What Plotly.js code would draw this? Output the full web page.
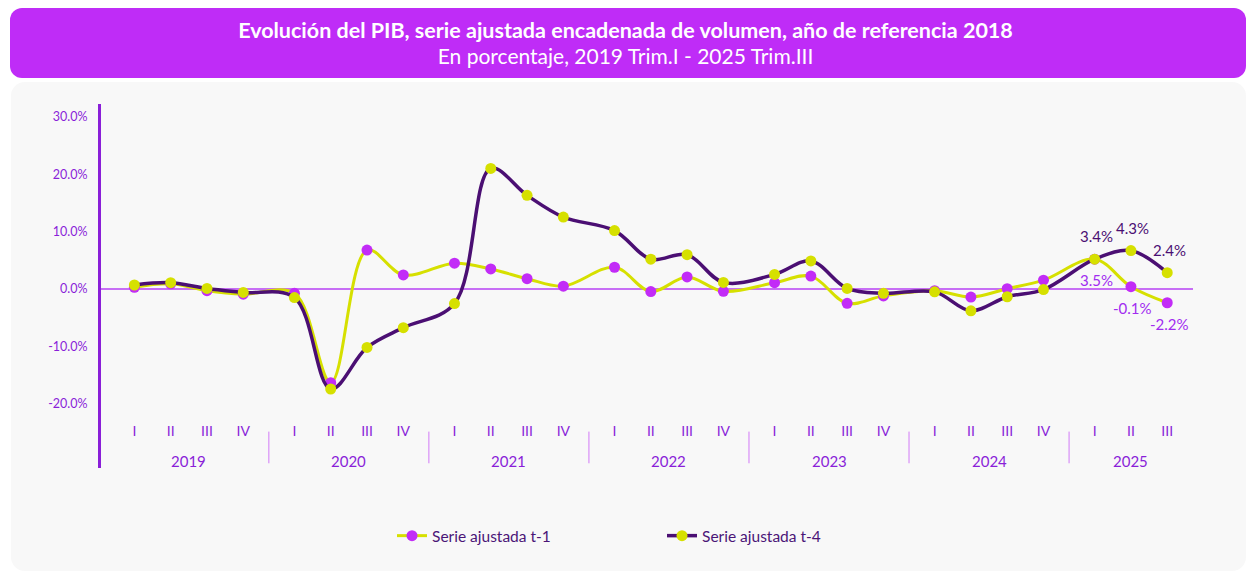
<!DOCTYPE html>
<html>
<head>
<meta charset="utf-8">
<script src="https://cdn.plot.ly/plotly-3.0.1.min.js"></script>
<style>
  html, body { margin: 0; padding: 0; background: #ffffff; }
  #wrap { position: relative; width: 1251px; height: 573px; overflow: hidden; }
  #panel { position: absolute; left: 11px; top: 82px; width: 1235px; height: 489px; background: #f8f8f8; border-radius: 14px; }
  #titlebox { position: absolute; left: 10px; top: 8px; width: 1236px; height: 70px; background: #bf2cf7; border-radius: 12px; }
  #chart { position: absolute; left: 0; top: 0; width: 1251px; height: 573px; }
</style>
</head>
<body>
<div id="wrap">
  <div id="panel"></div>
  <div id="titlebox"></div>
  <div id="chart"></div>
</div>
<script>
// ---- data ----
const yearLabels = ['2019', '2020', '2021', '2022', '2023', '2024', '2025'];
const quarterLabels = ['I', 'II', 'III', 'IV'];
const quartersPerYear = [4, 4, 4, 4, 4, 4, 3];

// Serie ajustada t-1 (variación intertrimestral, %)
const serieT1 = [0.3, 0.9, -0.3, -0.9,
                 -0.75, -16.35, 6.8, 2.45,
                 4.5, 3.5, 1.8, 0.5,
                 3.8, -0.45, 2.1, -0.4,
                 1.1, 2.25, -2.5, -1.2,
                 -0.3, -1.4, 0.05, 1.55,
                 5.2, 0.4, -2.4];
// Serie ajustada t-4 (variación interanual, %)
const serieT4 = [0.7, 1.1, 0.1, -0.6,
                 -1.5, -17.45, -10.2, -6.75,
                 -2.55, 21.05, 16.35, 12.55,
                 10.2, 5.2, 6.0, 1.15,
                 2.55, 4.9, 0.1, -0.75,
                 -0.5, -3.8, -1.35, -0.1,
                 5.2, 6.7, 2.85];
// printed labels on the last three quarters
const labelsT1 = ['3.5%', '-0.1%', '-2.2%'];
const labelsT4 = ['3.4%', '4.3%', '2.4%'];

const yTickValues = [-20, -10, 0, 10, 20, 30];
const yTickText = ['-20.0%', '-10.0%', '0.0%', '10.0%', '20.0%', '30.0%'];

// ---- layout helpers ----
const YEAR_SPAN = 4.41;   // axis units per year group (quarter step = 1)
const xPos = [], xQuarter = [];
quartersPerYear.forEach((n, yi) => {
  for (let q = 0; q < n; q++) {
    xPos.push(yi * YEAR_SPAN + q);
    xQuarter.push(quarterLabels[q]);
  }
});

const FONT = 'Lato, "Noto Sans", sans-serif';
const PURPLE = '#8a1fd8';
const DARK = '#4b0f73';
const YELLOW = '#d6e000';
const MAGENTA = '#c22cf7';

const traces = [
  {
    type: 'scatter', mode: 'lines+markers', name: 'Serie ajustada t-1',
    x: xPos, y: serieT1,
    line: { color: YELLOW, width: 3, shape: 'spline', smoothing: 1 },
    marker: { color: MAGENTA, size: 11 },
    cliponaxis: false
  },
  {
    type: 'scatter', mode: 'lines+markers', name: 'Serie ajustada t-4',
    x: xPos, y: serieT4,
    line: { color: DARK, width: 3.5, shape: 'spline', smoothing: 1 },
    marker: { color: YELLOW, size: 11 },
    cliponaxis: false
  }
];

const annotations = [];
// year labels centred under each group
quartersPerYear.forEach((n, yi) => {
  annotations.push({
    x: yi * YEAR_SPAN + (n - 1) / 2, xref: 'x',
    y: 0.02, yref: 'paper', yanchor: 'middle',
    text: yearLabels[yi], showarrow: false,
    font: { family: FONT, size: 15, color: PURPLE }
  });
});
// value labels for the last three quarters
const start = xPos.length - labelsT4.length;
labelsT4.forEach((t, i) => {
  annotations.push({
    x: xPos[start + i], y: serieT4[start + i], xref: 'x', yref: 'y',
    text: t, showarrow: false, yshift: 23, xshift: 2,
    font: { family: FONT, size: 15, color: DARK }
  });
});
labelsT1.forEach((t, i) => {
  annotations.push({
    x: xPos[start + i], y: serieT1[start + i], xref: 'x', yref: 'y',
    text: t, showarrow: false, yshift: -21, xshift: 2,
    font: { family: FONT, size: 15, color: '#a12cf0' }
  });
});

// separators between year groups
const shapes = [];
for (let yi = 1; yi < quartersPerYear.length; yi++) {
  const xs = yi * YEAR_SPAN - (YEAR_SPAN - 3) / 2;
  shapes.push({
    type: 'line', xref: 'x', yref: 'paper', x0: xs, x1: xs, y0: 0.013, y1: 0.1,
    line: { color: '#d27af7', width: 1 }
  });
}

const layout = {
  width: 1251, height: 573,
  margin: { l: 101, r: 58, t: 104, b: 105, pad: 0 },
  paper_bgcolor: 'rgba(0,0,0,0)',
  plot_bgcolor: 'rgba(0,0,0,0)',
  font: { family: FONT, color: PURPLE },
  title: {
    text: '<b><span style="font-size:21.5px">Evolución del PIB, serie ajustada encadenada de volumen, año de referencia 2018</span></b><br><span style="font-size:21px">En porcentaje, 2019 Trim.I - 2025 Trim.III</span>',
    font: { family: FONT, size: 19.8, color: '#ffffff' },
    x: 0.5, xref: 'container', xanchor: 'center',
    y: 1 - 38 / 573, yref: 'container', yanchor: 'middle'
  },
  xaxis: {
    range: [-0.92, 29.17],
    anchor: 'free', position: 0.128,
    showline: false, showgrid: false, zeroline: false,
    tickmode: 'array', tickvals: xPos, ticktext: xQuarter,
    ticks: '', tickfont: { family: FONT, size: 14, color: PURPLE }
  },
  yaxis: {
    range: [-31.24, 32.29],
    showline: true, linecolor: PURPLE, linewidth: 3,
    showgrid: false,
    zeroline: true, zerolinecolor: '#c76ef5', zerolinewidth: 1.5,
    tickmode: 'array', tickvals: yTickValues, ticktext: yTickText,
    ticks: '', ticklabelstandoff: 8,
    tickfont: { family: FONT, size: 12.5, color: PURPLE }
  },
  showlegend: true,
  legend: {
    orientation: 'h', x: 0.2665, xanchor: 'left', y: -0.187, yanchor: 'middle',
    font: { family: FONT, size: 15.5, color: '#4b1577' },
    bgcolor: 'rgba(0,0,0,0)', entrywidth: 225, entrywidthmode: 'pixels'
  },
  annotations: annotations,
  shapes: shapes,
  hovermode: false
};

Plotly.newPlot('chart', traces, layout, { staticPlot: true, displayModeBar: false });
</script>
</body>
</html>
